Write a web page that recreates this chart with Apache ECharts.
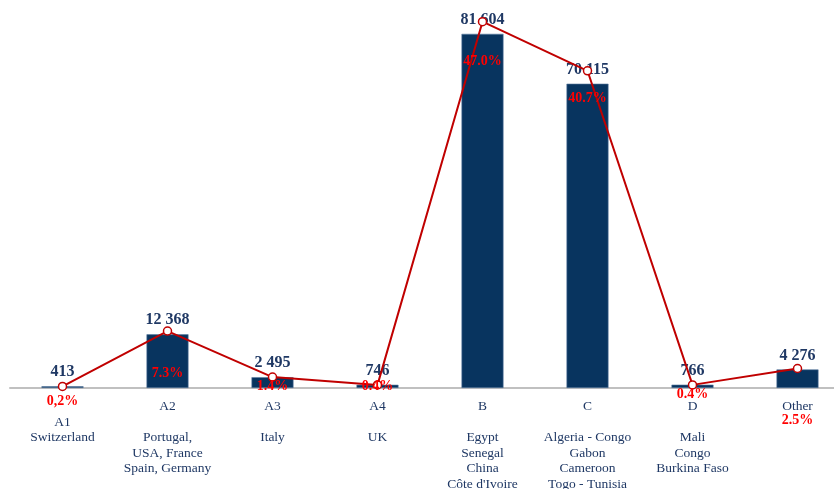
<!DOCTYPE html>
<html>
<head>
<meta charset="utf-8">
<script src="https://cdn.jsdelivr.net/npm/echarts@6/dist/echarts.min.js"></script>
<style>
  html, body { margin: 0; padding: 0; background: #fff; }
  #chart { width: 834px; height: 489px; }
</style>
</head>
<body>
<div id="chart"></div>
<script>
// data
const codes = ["A1", "A2", "A3", "A4", "B", "C", "D", "Other"];
const countries = [
    "Switzerland",
    "Portugal,\nUSA, France\nSpain, Germany",
    "Italy",
    "UK",
    "Egypt\nSenegal\nChina\nCôte d'Ivoire",
    "Algeria - Congo\nGabon\nCameroon\nTogo - Tunisia",
    "Mali\nCongo\nBurkina Faso",
    ""
];
const volumes = [413, 12368, 2495, 746, 81604, 70115, 766, 4276];
const shares = [0.2, 7.3, 1.4, 0.4, 47.0, 40.7, 0.4, 2.5];
const shareTexts = ["0,2%", "7.3%", "1.4%", "0.4%", "47.0%", "40.7%", "0.4%", "2.5%"];

const serif = "'Liberation Serif', 'Times New Roman', serif";
const navy = "#1f3864";
const red = "#ff0000";

// where each percentage sits relative to its point (vertical offset, px)
const shareLabelDy = [15, 42, 9, 2, 40, 28, 10, null];

const chart = echarts.init(document.getElementById("chart"));

const fmtThousands = v => String(v).replace(/\B(?=(\d{3})+(?!\d))/g, " ");

const lineData = shares.map((v, i) => ({
    value: v,
    label: shareLabelDy[i] === null
        ? { show: false }
        : { show: true, position: "inside", offset: [0, shareLabelDy[i]], formatter: shareTexts[i] }
}));

const option = {
    animation: false,
    // the original chart runs past the right edge, so let the grid overflow
    grid: { left: 10, width: 840, top: 10, bottom: 101, outerBoundsMode: "none", containLabel: false },
    xAxis: {
        type: "category",
        data: codes,
        axisLine: { lineStyle: { color: "#c0c0c0", width: 2 } },
        axisTick: { show: false },
        axisLabel: {
            interval: 0,
            margin: 11,
            color: navy,
            fontFamily: serif,
            fontSize: 13.5,
            lineHeight: 15.5,
            verticalAlign: "top",
            formatter: (val, idx) => {
                if (val === "Other") return "Other\n{r|" + shareTexts[idx] + "}";
                if (idx === 0) return "\n" + val + "\n" + countries[idx];
                return val + "\n\n" + countries[idx];
            },
            rich: {
                r: { color: red, fontWeight: "bold", fontFamily: serif, fontSize: 14, lineHeight: 12 }
            }
        }
    },
    yAxis: [
        { type: "value", min: 0, max: 87100, show: false, splitLine: { show: false } },
        { type: "value", min: 0, max: 48.5, show: false, splitLine: { show: false } }
    ],
    series: [
        {
            type: "bar",
            data: volumes,
            barWidth: 42,
            itemStyle: { color: "#08345f", borderColor: "#5a7aa0", borderWidth: 0.6 },
            label: {
                show: true,
                position: "top",
                distance: 6,
                color: navy,
                fontFamily: serif,
                fontWeight: "bold",
                fontSize: 16,
                formatter: p => fmtThousands(p.value)
            },
            z: 2
        },
        {
            type: "line",
            yAxisIndex: 1,
            data: lineData,
            symbol: "circle",
            symbolSize: 8,
            lineStyle: { color: "#c00000", width: 2 },
            itemStyle: { color: "#ffffff", borderColor: "#c00000", borderWidth: 1.5 },
            label: {
                color: red,
                fontFamily: serif,
                fontWeight: "bold",
                fontSize: 14
            },
            z: 3
        }
    ]
};

chart.setOption(option);
</script>
</body>
</html>
